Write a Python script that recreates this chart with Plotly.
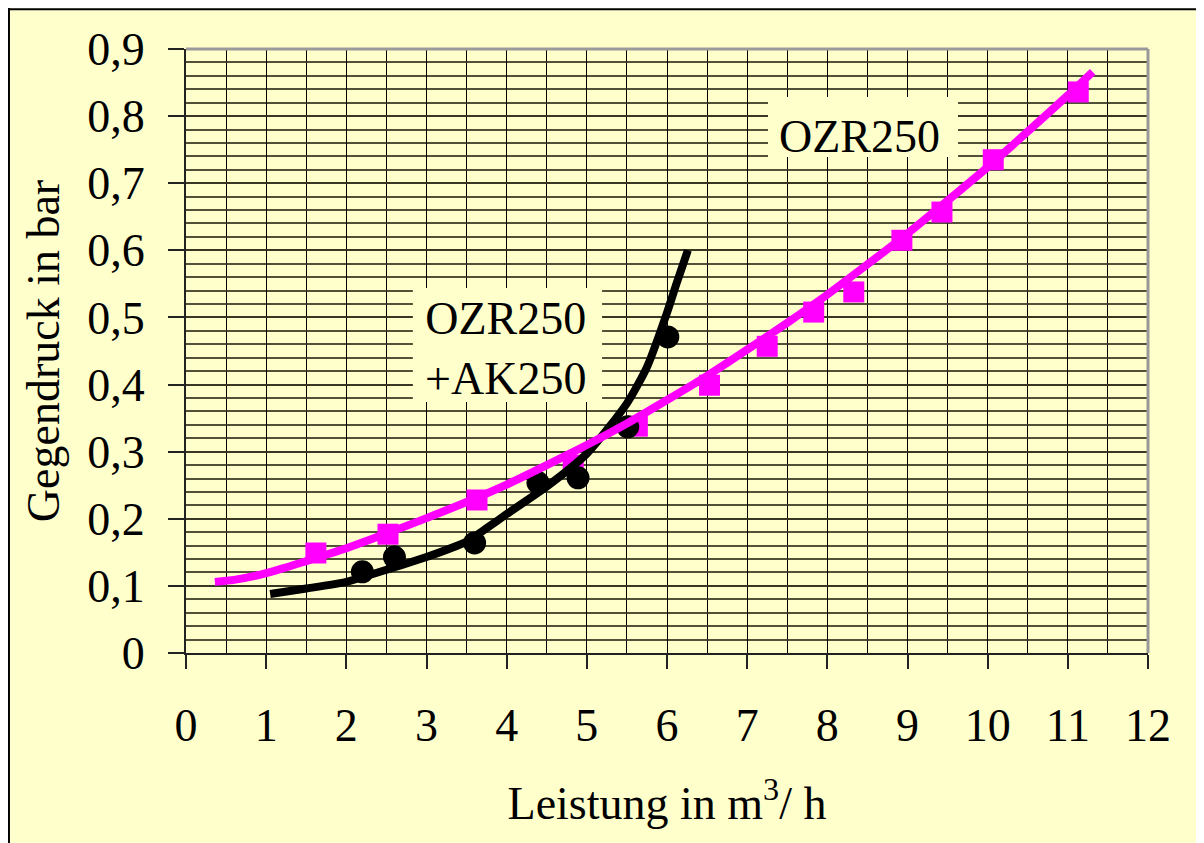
import plotly.graph_objects as go

# OZR250 measurements (pink squares)
ozr_x = [1.62, 2.52, 3.63, 4.83, 5.63, 6.53, 7.25, 7.83, 8.33, 8.93, 9.43, 10.07, 11.13]
ozr_y = [0.149, 0.177, 0.228, 0.280, 0.338, 0.399, 0.457, 0.508, 0.538, 0.615, 0.657, 0.735, 0.836]

# OZR250 + AK250 measurements (black dots)
ak_x = [2.2, 2.6, 3.6, 4.39, 4.89, 5.51, 6.01]
ak_y = [0.121, 0.143, 0.164, 0.254, 0.261, 0.337, 0.471]

# trend curves
ozr_trend_x = [0.36, 0.6, 1.0, 1.5, 2.0, 2.5, 3.0, 3.5, 4.0, 4.5, 5.0, 5.5, 6.0, 6.5,
               7.0, 7.5, 8.0, 8.5, 9.0, 9.5, 10.0, 10.5, 11.0, 11.31]
ozr_trend_y = [0.106, 0.109, 0.119, 0.137, 0.156, 0.178, 0.201, 0.225, 0.251, 0.280,
               0.310, 0.342, 0.377, 0.413, 0.452, 0.492, 0.534, 0.579, 0.625, 0.674,
               0.724, 0.777, 0.831, 0.866]

ak_trend_x = [1.05, 1.5, 2.0, 2.5, 3.0, 3.5, 3.75, 4.0, 4.5, 5.0, 5.5, 5.75, 6.0, 6.12, 6.26]
ak_trend_y = [0.088, 0.096, 0.106, 0.124, 0.143, 0.166, 0.186, 0.207, 0.248, 0.297,
              0.372, 0.426, 0.507, 0.551, 0.600]

x_ticks = [0, 1, 2, 3, 4, 5, 6, 7, 8, 9, 10, 11, 12]
y_ticks = [0, 0.1, 0.2, 0.3, 0.4, 0.5, 0.6, 0.7, 0.8, 0.9]
y_labels = ["0", "0,1", "0,2", "0,3", "0,4", "0,5", "0,6", "0,7", "0,8", "0,9"]

BG = "#FFFFCC"
PINK = "#FF00FF"
FONT = "Times New Roman, Liberation Serif, serif"

W, H = 1196, 835
ML, MT, MR, MB = 178, 41, 56, 190
PW = W - ML - MR
PH = H - MT - MB

fig = go.Figure()
fig.add_trace(go.Scatter(x=ozr_x, y=ozr_y, mode="markers",
                         marker=dict(symbol="square", size=21, color=PINK),
                         showlegend=False, hoverinfo="skip"))
fig.add_trace(go.Scatter(x=ak_x, y=ak_y, mode="markers",
                         marker=dict(symbol="circle", size=23, color="black"),
                         showlegend=False, hoverinfo="skip"))
fig.add_trace(go.Scatter(x=ak_trend_x, y=ak_trend_y, mode="lines",
                         line=dict(color="black", width=8, shape="spline", smoothing=0.6),
                         showlegend=False, hoverinfo="skip"))
fig.add_trace(go.Scatter(x=ozr_trend_x, y=ozr_trend_y, mode="lines",
                         line=dict(color=PINK, width=8, shape="spline", smoothing=0.6),
                         showlegend=False, hoverinfo="skip"))

fig.update_layout(
    width=W, height=H,
    margin=dict(l=ML, r=MR, t=MT, b=MB),
    paper_bgcolor=BG, plot_bgcolor=BG,
    font=dict(family=FONT, size=46, color="black"),
    separators=",.",
    xaxis=dict(
        range=[0, 12], tickvals=x_ticks, ticktext=[str(v) for v in x_ticks],
        showgrid=True, gridcolor="#000000", gridwidth=1,
        minor=dict(dtick=0.5, tick0=0, showgrid=True, gridcolor="#000000", gridwidth=1),
        showline=True, linecolor="#222222", linewidth=2,
        ticks="outside", ticklen=14, tickwidth=1.5, tickcolor="#222222",
        ticklabelstandoff=17,
        tickfont=dict(family=FONT, size=46),
        zeroline=False,
        title=dict(text="Leistung in m<sup>3</sup>/ h", font=dict(family=FONT, size=46), standoff=37),
    ),
    yaxis=dict(
        range=[0, 0.9], tickvals=y_ticks, ticktext=y_labels,
        showgrid=True, gridcolor="rgba(50,50,30,0.85)", gridwidth=1.5,
        minor=dict(dtick=0.02, tick0=0, showgrid=True, gridcolor="rgba(50,50,30,0.85)", gridwidth=1.5),
        showline=True, linecolor="#222222", linewidth=2,
        ticks="outside", ticklen=16, tickwidth=1.5, tickcolor="#222222",
        ticklabelstandoff=14,
        tickfont=dict(family=FONT, size=46),
        zeroline=False,
        title=dict(text="Gegendruck in bar", font=dict(family=FONT, size=46), standoff=13),
    ),
    shapes=[
        # label backgrounds (above grid, below data)
        dict(type="rect", xref="x", yref="y", x0=7.26, x1=9.63, y0=0.739, y1=0.8286,
             layer="between", fillcolor=BG, line=dict(width=0)),
        dict(type="rect", xref="x", yref="y", x0=2.83, x1=5.19, y0=0.374, y1=0.544,
             layer="between", fillcolor=BG, line=dict(width=0)),
        dict(type="line", xref="paper", yref="paper", x0=0, x1=1, y0=1, y1=1,
             line=dict(color="#999999", width=3)),
        dict(type="line", xref="paper", yref="paper", x0=1, x1=1, y0=0, y1=1,
             line=dict(color="#999999", width=3)),
        # outer frame (top and left edges visible)
        dict(type="line", xref="paper", yref="paper",
             x0=-ML / PW + 0.001, x1=(W - ML) / PW, y0=1 + MT / PH - 0.002, y1=1 + MT / PH - 0.002,
             line=dict(color="black", width=2)),
        dict(type="line", xref="paper", yref="paper",
             x0=-ML / PW + 0.001, x1=-ML / PW + 0.001, y0=-MB / PH, y1=1 + MT / PH,
             line=dict(color="black", width=2)),
    ],
    annotations=[
        dict(x=8.40, y=0.769, xref="x", yref="y", text="OZR250", showarrow=False,
             font=dict(family=FONT, size=46, color="black")),
        dict(x=3.99, y=0.454, xref="x", yref="y", text="OZR250<br>+AK250", showarrow=False,
             font=dict(family=FONT, size=46, color="black")),
    ],
)

fig.write_html("out.html")
